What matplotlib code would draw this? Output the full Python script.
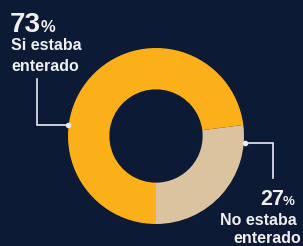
import matplotlib
matplotlib.use("Agg")
import matplotlib.pyplot as plt
import numpy as np

# Data
categories = ["No estaba\nenterado", "Si estaba\nenterado"]
values = [27, 73]
pct_labels = ["27", "73"]
colors = ["#dcc3a0", "#fbb01a"]
bg = "#0c1a35"

W, H = 303, 246
fig = plt.figure(figsize=(W / 100, H / 100), dpi=100)
fig.patch.set_facecolor(bg)
ax = fig.add_axes([0, 0, 1, 1])
ax.set_facecolor(bg)

cx, cy, R = 156, H - 136, 88
wedges, _ = ax.pie(values, colors=colors, startangle=-90, counterclock=True,
                   center=(cx, cy), radius=R, frame=True,
                   wedgeprops=dict(width=R * 0.47, edgecolor="none"))
ax.set_xlim(0, W)
ax.set_ylim(0, H)
ax.set_aspect("equal")
ax.axis("off")

font = "Liberation Sans"
tc = "#f0f0f0"
lc = "#e8ecf2"

def edge(angle_deg, r=R + 1):
    a = np.deg2rad(angle_deg)
    return cx + r * np.cos(a), cy + r * np.sin(a)

# Left label (73%)
px, py = edge(173)
ax.plot([37, 37, px], [H - 79, py, py], color=lc, lw=1.2, solid_joinstyle="miter")
ax.plot([px], [py], "o", color=lc, ms=3)
ax.text(10, H - 32, pct_labels[1], fontsize=20, fontweight="bold", color=tc,
        family=font, va="baseline", ha="left")
ax.text(41, H - 32, "%", fontsize=12, fontweight="bold", color=tc,
        family=font, va="baseline", ha="left")
l1, l2 = categories[1].split("\n")
ax.text(11, H - 50, l1, fontsize=11.5, fontweight="bold", color=tc,
        family=font, va="baseline", ha="left")
ax.text(11, H - 71, l2, fontsize=11.5, fontweight="bold", color=tc,
        family=font, va="baseline", ha="left")

# Right label (27%)
px, py = edge(-4.5)
ax.plot([px, 273, 273], [py, py, H - 178], color=lc, lw=1.2, solid_joinstyle="miter")
ax.plot([px], [py], "o", color=lc, ms=3)
ax.text(284, H - 205, pct_labels[0], fontsize=15.5, fontweight="bold", color=tc,
        family=font, va="baseline", ha="right")
ax.text(283, H - 205, "%", fontsize=9.5, fontweight="bold", color=tc,
        family=font, va="baseline", ha="left")
r1, r2 = categories[0].split("\n")
ax.text(297, H - 225, r1, fontsize=11.5, fontweight="bold", color=tc,
        family=font, va="baseline", ha="right")
ax.text(301, H - 243, r2, fontsize=11.5, fontweight="bold", color=tc,
        family=font, va="baseline", ha="right")

fig.savefig("out.png", dpi=100, facecolor=bg)
